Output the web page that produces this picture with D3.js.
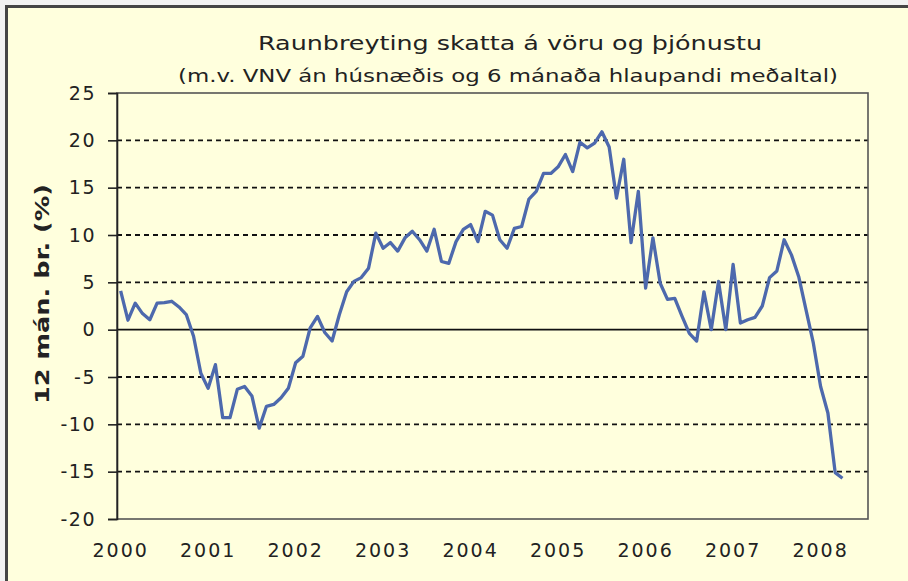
<!DOCTYPE html>
<html>
<head>
<meta charset="utf-8">
<script src="https://cdn.jsdelivr.net/npm/d3@7"></script>
<style>
  body { margin: 0; background: #f2f2f2; }
  svg { display: block; }
  text { font-family: "DejaVu Sans", Verdana, sans-serif; fill: #222; }
</style>
</head>
<body>
<div id="chart"></div>
<script>
const width = 908;
const height = 581;
const margin = { top: 93, right: 40, bottom: 62, left: 117 };
const plotW = width - margin.left - margin.right;
const plotH = height - margin.top - margin.bottom;
const MONTH_SLOTS = 103;

const title = 'Raunbreyting skatta á vöru og þjónustu';
const subtitle = '(m.v. VNV án húsnæðis og 6 mánaða hlaupandi meðaltal)';
const yLabel = '12 mán. br. (%)';
const yearLabels = ['2000', '2001', '2002', '2003', '2004', '2005', '2006', '2007', '2008'];
const yTicks = [25, 20, 15, 10, 5, 0, -5, -10, -15, -20];

// monthly values, Jan 2000 .. Apr 2008
const values = [
  4.1, 1.0, 2.8, 1.7, 1.05, 2.8, 2.85, 3.0, 2.4, 1.6, -0.7, -4.6,
  -6.2, -3.7, -9.3, -9.3, -6.3, -6.0, -7.0, -10.4, -8.1, -7.9, -7.2, -6.2,
  -3.5, -2.8, 0.2, 1.4, -0.3, -1.2, 1.6, 4.0, 5.1, 5.5, 6.5, 10.2,
  8.6, 9.2, 8.3, 9.7, 10.4, 9.5, 8.3, 10.6, 7.2, 7.0, 9.3, 10.6,
  11.1, 9.3, 12.5, 12.1, 9.5, 8.6, 10.7, 10.9, 13.8, 14.6, 16.5, 16.5,
  17.2, 18.5, 16.7, 19.8, 19.2, 19.7, 20.9, 19.3, 13.9, 18.0, 9.2, 14.6,
  4.4, 9.7, 4.9, 3.2, 3.3, 1.4, -0.4, -1.2, 4.0, 0.0, 5.1, 0.0,
  6.9, 0.7, 1.05, 1.3, 2.5, 5.5, 6.2, 9.5, 7.9, 5.6, 2.1, -1.4,
  -6.0, -8.8, -15.1, -15.7
];

const svg = d3.select('#chart')
  .append('svg')
  .attr('width', width)
  .attr('height', height);

// chart area background + outer frame (only top/left visible)
svg.append('rect')
  .attr('x', 6.5).attr('y', 6.5)
  .attr('width', width + 20).attr('height', height + 20)
  .attr('fill', '#ffffdd')
  .attr('stroke', '#454545')
  .attr('stroke-width', 3);

const x = d3.scaleBand()
  .domain(d3.range(MONTH_SLOTS))
  .range([margin.left, margin.left + plotW]);

const y = d3.scaleLinear()
  .domain([-20, 25])
  .range([margin.top + plotH, margin.top]);

const cx = (i) => x(i) + x.bandwidth() / 2;

// gridlines
svg.append('g')
  .selectAll('line')
  .data(yTicks.filter((d) => d !== 25 && d !== -20 && d !== 0))
  .enter().append('line')
    .attr('x1', margin.left).attr('x2', margin.left + plotW)
    .attr('y1', (d) => y(d)).attr('y2', (d) => y(d))
    .attr('stroke', '#111')
    .attr('stroke-width', 1.8)
    .attr('stroke-dasharray', '5,4');

// plot frame
svg.append('rect')
  .attr('x', margin.left).attr('y', y(25))
  .attr('width', plotW).attr('height', y(-20) - y(25))
  .attr('fill', 'none')
  .attr('stroke', '#555')
  .attr('stroke-width', 1.6);

// zero line
svg.append('line')
  .attr('x1', margin.left).attr('x2', margin.left + plotW)
  .attr('y1', y(0)).attr('y2', y(0))
  .attr('stroke', '#111')
  .attr('stroke-width', 1.8);

// y axis (plain hyphen minus, like the original)
const yAxis = svg.append('g')
  .attr('transform', `translate(${margin.left},0)`)
  .call(d3.axisLeft(y).tickValues(yTicks).tickSize(9).tickPadding(12)
    .tickFormat((d) => String(d)));
yAxis.select('.domain').attr('stroke', '#222').attr('stroke-width', 1.6);
yAxis.selectAll('.tick line').attr('stroke', '#222').attr('stroke-width', 1.6);
yAxis.selectAll('.tick text')
  .attr('fill', '#222')
  .style('font-size', '19px')
  .style('letter-spacing', '1.5px')
  .style('font-family', '"DejaVu Sans", Verdana, sans-serif');

// x labels at January of each year
svg.append('g')
  .selectAll('text')
  .data(yearLabels)
  .enter().append('text')
    .attr('x', (d, i) => cx(i * 12))
    .attr('y', 557)
    .attr('text-anchor', 'middle')
    .style('font-size', '19px')
    .style('letter-spacing', '2px')
    .text((d) => d);

// series line
const line = d3.line()
  .x((d, i) => cx(i))
  .y((d) => y(d));

svg.append('path')
  .datum(values)
  .attr('d', line)
  .attr('fill', 'none')
  .attr('stroke', '#4d69ad')
  .attr('stroke-width', 3.3)
  .attr('stroke-linejoin', 'round');

// titles
svg.append('text')
  .attr('x', 510).attr('y', 50)
  .attr('text-anchor', 'middle')
  .attr('textLength', 504)
  .attr('lengthAdjust', 'spacingAndGlyphs')
  .style('font-size', '19px')
  .text(title);

svg.append('text')
  .attr('x', 508).attr('y', 82)
  .attr('text-anchor', 'middle')
  .attr('textLength', 660)
  .attr('lengthAdjust', 'spacingAndGlyphs')
  .style('font-size', '18px')
  .text(subtitle);

// y axis title
svg.append('text')
  .attr('transform', 'translate(49,294) rotate(-90)')
  .attr('text-anchor', 'middle')
  .attr('textLength', 220)
  .attr('lengthAdjust', 'spacingAndGlyphs')
  .style('font-size', '19px')
  .style('font-weight', 'bold')
  .text(yLabel);
</script>
</body>
</html>
